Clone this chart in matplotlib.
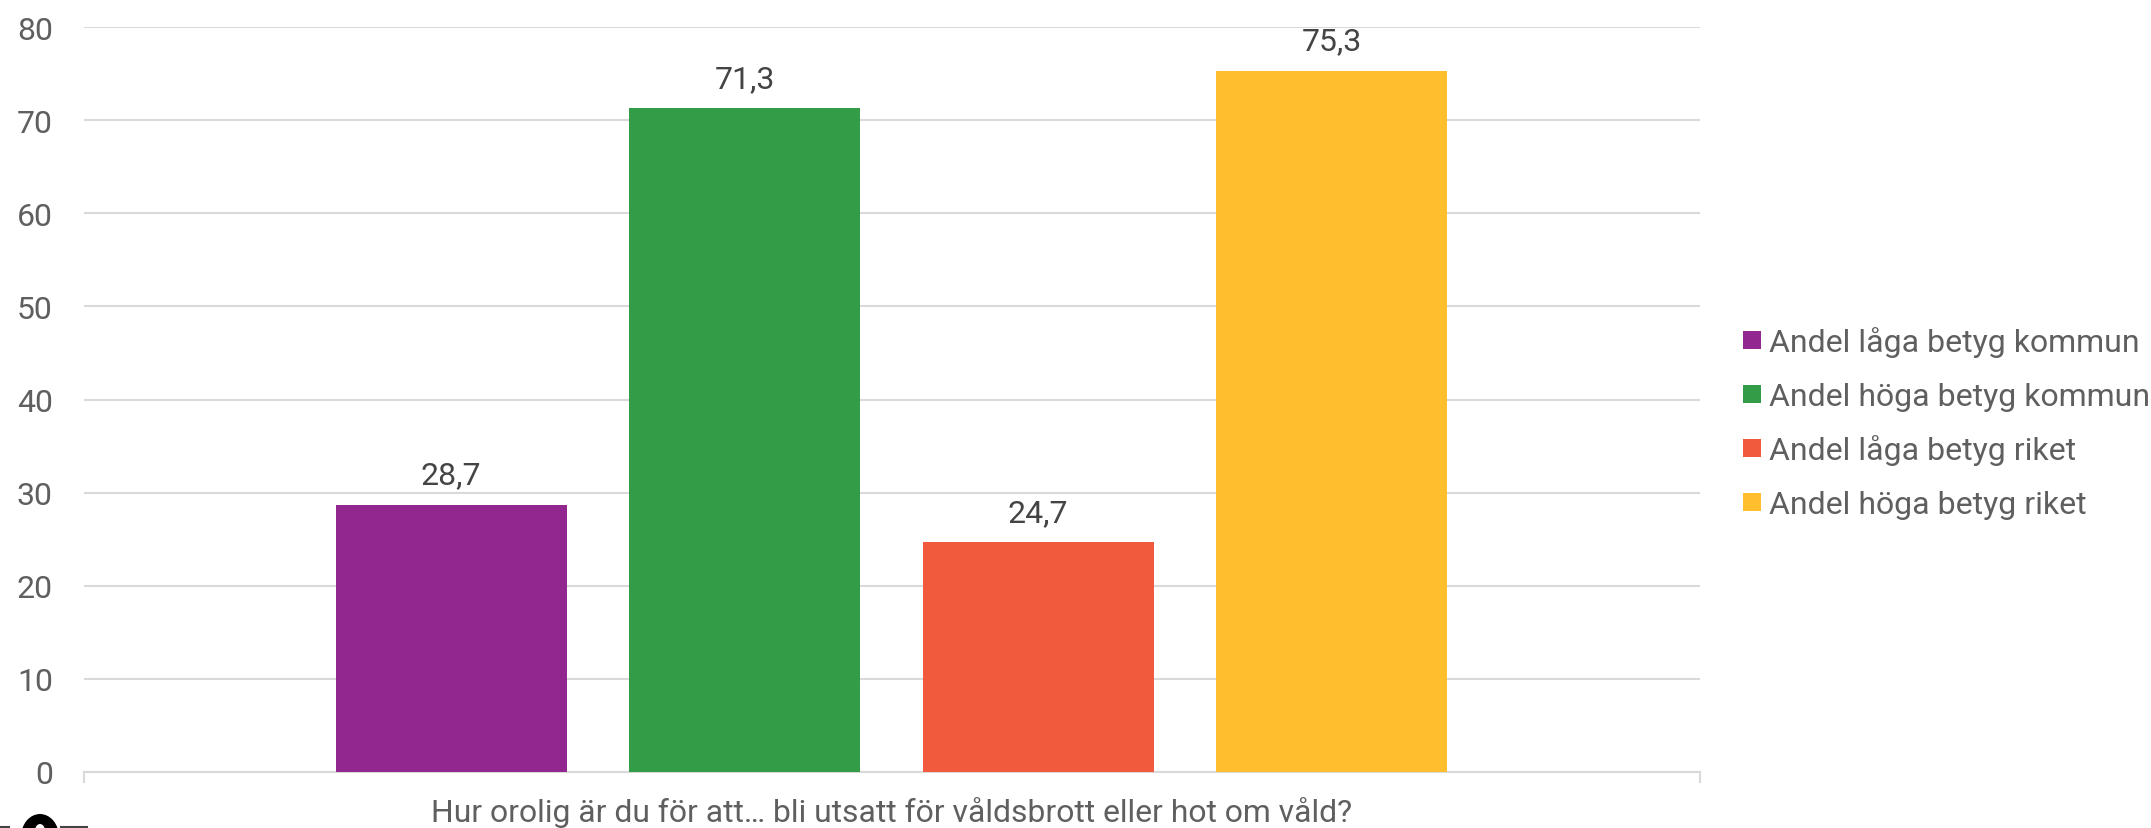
import matplotlib
matplotlib.use('Agg')
import matplotlib.pyplot as plt
from matplotlib.patches import Rectangle, Ellipse

#values
series = ['Andel låga betyg kommun', 'Andel höga betyg kommun', 'Andel låga betyg riket', 'Andel höga betyg riket']
values = [28.7, 71.3, 24.7, 75.3]
value_labels = ['28,7', '71,3', '24,7', '75,3']
colors = ['#92278F', '#339C47', '#F15A3C', '#FFBE2E']
yticks = [0, 10, 20, 30, 40, 50, 60, 70, 80]
xlabel = 'Hur orolig är du för att… bli utsatt för våldsbrott eller hot om våld?'

W, H = 2151, 829
text_col = '#5F5F5F'
grid_col = '#D9D9D9'

plt.rcParams['font.family'] = ['Roboto', 'DejaVu Sans']

fig = plt.figure(figsize=(W/100, H/100), dpi=100)
ax = fig.add_axes([83.5/W, 1-773/H, (1700-83.5)/W, (773-28)/H])

#bars
xs = list(range(len(values)))
ax.bar(xs, values, width=0.787, color=colors, zorder=3)
for x, v, lab in zip(xs, values, value_labels):
    ax.annotate(lab, (x, v), xytext=(0, 11), textcoords='offset points', ha='center', va='bottom',
                fontsize=23, color='#444444')

ax.set_xlim(-1.252, 4.255)
ax.set_ylim(0, 80)
ax.set_yticks(yticks)
ax.set_xticks([])
ax.grid(axis='y', color=grid_col, lw=1.5, zorder=0)
for s in ['top', 'right', 'left']:
    ax.spines[s].set_visible(False)
ax.spines['bottom'].set_color(grid_col)
ax.spines['bottom'].set_linewidth(1.5)
ax.tick_params(axis='y', length=0, pad=22, labelsize=23, labelcolor=text_col)
ax.patch.set_alpha(0)

#small end ticks on the x axis
for xpos in [0, 1]:
    ax.plot([xpos, xpos], [0, -0.013], transform=ax.transAxes, color=grid_col, lw=1.5, clip_on=False)

fig.text(892/W, 1-813/H, xlabel, ha='center', va='center', fontsize=22.93, color=text_col)

#overlay in pixel coordinates for the legend and the blob
bg = fig.add_axes([0, 0, 1, 1], zorder=5)
bg.set_xlim(0, W)
bg.set_ylim(H, 0)
bg.axis('off')

#legend, rows are evenly spaced in the reference so drawn by hand
for i, (name, c) in enumerate(zip(series, colors)):
    yc = 341 + 54*i
    bg.add_patch(Rectangle((1743, yc-9), 18, 18, facecolor=c, lw=0))
    bg.text(1769, yc+11, name, ha='left', va='baseline', fontsize=23, color=text_col)

#cut off black blob along the bottom edge of the reference
bg.add_patch(Ellipse((40, 838), 38, 46, color='black', lw=0))
bg.add_patch(Ellipse((40, 832), 10, 14, color='white', lw=0))
bg.plot([61, 87], [828, 828], color='#444444', lw=1.5)
bg.plot([0, 9], [828, 828], color='#444444', lw=1.5)

fig.savefig('out.png', dpi=100)
